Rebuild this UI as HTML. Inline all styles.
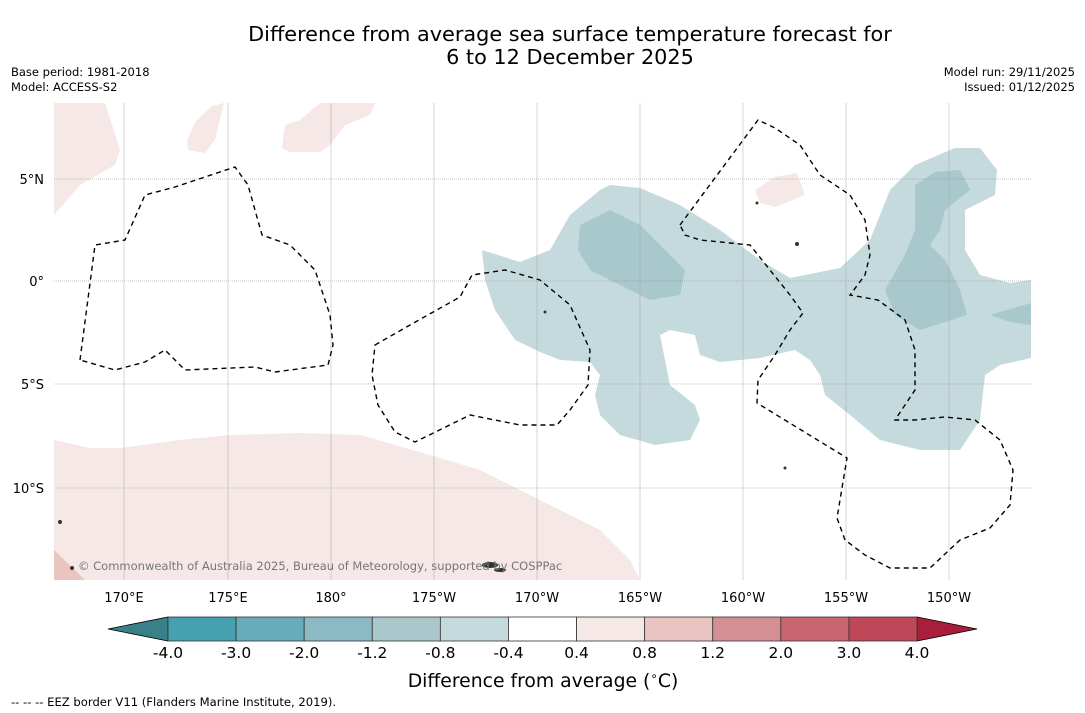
<!DOCTYPE html>
<html><head><meta charset="utf-8">
<style>
body{margin:0;background:#fff;font-family:"DejaVu Sans","Liberation Sans",sans-serif;}
svg{display:block}
</style></head>
<body>
<svg width="1085" height="713" xmlns="http://www.w3.org/2000/svg">
<text x="570" y="41" text-anchor="middle" font-size="20.8">Difference from average sea surface temperature forecast for</text>
<text x="570" y="64" text-anchor="middle" font-size="20.8">6 to 12 December 2025</text>
<text x="11" y="76" font-size="11.5">Base period: 1981-2018</text>
<text x="11" y="91" font-size="11.5">Model: ACCESS-S2</text>
<text x="1075" y="76" font-size="11.5" text-anchor="end">Model run: 29/11/2025</text>
<text x="1075" y="91" font-size="11.5" text-anchor="end">Issued: 01/12/2025</text>

<defs><clipPath id="mc"><rect x="54" y="103" width="977" height="477"/></clipPath></defs>
<g clip-path="url(#mc)">
<rect x="54" y="103" width="977" height="477" fill="#fff"/>
<g fill="#f5e8e6">
<path d="M54,440 L90,448 L120,448 L180,440 L230,435 L300,433 L360,435 L430,455 L480,470 L520,490 L560,510 L600,530 L630,560 L640,580 L54,580Z"/>
<path d="M54,103 L105,103 L120,150 L115,165 L80,185 L54,215Z"/>
<path d="M188,150 L205,153 L215,140 L224,103 L212,106 L195,122 L187,140Z"/>
<path d="M285,125 L300,120 L320,103 L375,103 L370,115 L345,125 L330,145 L320,152 L290,152 L282,148Z"/>
<path d="M755,190 L775,177 L797,173 L805,195 L775,207 L760,203Z"/>
<path d="M54,550 L85,580 L54,580Z" fill="#e8c5c0"/>
</g>
<g>
<path fill="#c5dadd" d="M482,250 L520,262 L550,250 L570,215 L600,190 L610,185 L640,188 L680,205 L720,230 L760,260 L790,278 L840,268 L870,240 L890,190 L915,165 L955,148 L980,148 L997,170 L995,195 L965,210 L965,250 L980,275 L1010,283 L1031,280 L1031,358 L1000,365 L985,375 L980,420 L960,450 L920,450 L880,440 L850,415 L825,395 L820,375 L810,360 L795,350 L760,358 L720,362 L700,355 L695,335 L670,330 L660,335 L665,360 L670,385 L695,405 L700,420 L690,440 L655,445 L620,435 L600,415 L595,395 L600,375 L590,362 L560,360 L540,352 L515,340 L495,310 L485,280Z"/>
<path fill="#a8c8cc" d="M580,225 L610,210 L640,225 L685,270 L680,295 L650,300 L590,270 L578,250Z"/>
<path fill="#a8c8cc" d="M915,185 L935,172 L960,170 L970,190 L945,210 L940,230 L930,245 L945,260 L960,290 L967,315 L920,330 L895,315 L885,290 L905,255 L915,230Z"/>
<path fill="#a8c8cc" d="M990,315 L1031,303 L1031,325 L1010,322Z"/>
</g>
<g stroke="#888" stroke-width="0.6" stroke-dasharray="1,1">
<line x1="54" y1="179" x2="1031" y2="179"/><line x1="54" y1="281" x2="1031" y2="281"/>
<line x1="54" y1="384" x2="1031" y2="384"/><line x1="54" y1="488" x2="1031" y2="488"/>
</g>
<g stroke="#aaa" stroke-width="0.5">
<line x1="124" y1="103" x2="124" y2="580"/><line x1="228" y1="103" x2="228" y2="580"/>
<line x1="331" y1="103" x2="331" y2="580"/><line x1="434" y1="103" x2="434" y2="580"/>
<line x1="537" y1="103" x2="537" y2="580"/><line x1="640" y1="103" x2="640" y2="580"/>
<line x1="743" y1="103" x2="743" y2="580"/><line x1="846" y1="103" x2="846" y2="580"/>
<line x1="949" y1="103" x2="949" y2="580"/>
</g>
<g fill="none" stroke="#000" stroke-width="1.4" stroke-dasharray="5,4">
<path d="M80,360 L95,245 L125,240 L145,195 L175,187 L235,167 L248,185 L262,235 L290,245 L315,270 L330,315 L333,345 L328,365 L275,372 L255,367 L185,370 L165,350 L145,362 L115,370 Z"/>
<path d="M375,345 L410,325 L460,297 L472,275 L505,270 L540,280 L570,305 L590,350 L588,385 L570,410 L557,425 L520,425 L470,415 L415,442 L395,432 L378,405 L372,375 Z"/>
<path d="M680,225 L758,120 L775,128 L800,145 L820,175 L850,195 L865,220 L870,255 L865,275 L850,295 L878,300 L905,320 L915,350 L915,390 L895,420 L915,420 L945,417 L975,420 L1000,440 L1013,470 L1010,505 L990,528 L960,540 L930,568 L890,568 L865,555 L845,540 L837,518 L847,458 L757,403 L758,380 L775,355 L790,330 L803,313 L790,295 L770,270 L750,245 L700,240 L685,235Z"/>
</g>
<g fill="#333">
<ellipse cx="490" cy="565" rx="8" ry="3"/><ellipse cx="500" cy="570" rx="6" ry="2"/>
<circle cx="72" cy="568" r="2"/><circle cx="60" cy="522" r="2"/><circle cx="545" cy="312" r="1.5"/>
<circle cx="797" cy="244" r="2"/><circle cx="757" cy="203" r="1.5"/><circle cx="785" cy="468" r="1.5"/>
</g>
<text x="78" y="570" font-size="11.5" fill="#777">© Commonwealth of Australia 2025, Bureau of Meteorology, supported by COSPPac</text>
</g>

<g font-size="13" text-anchor="middle">
<text x="124" y="602">170°E</text><text x="228" y="602">175°E</text><text x="331" y="602">180°</text>
<text x="434" y="602">175°W</text><text x="537" y="602">170°W</text><text x="640" y="602">165°W</text>
<text x="743" y="602">160°W</text><text x="846" y="602">155°W</text><text x="949" y="602">150°W</text>
</g>
<g font-size="13" text-anchor="end">
<text x="44" y="184">5°N</text><text x="44" y="286">0°</text><text x="44" y="389">5°S</text><text x="44" y="493">10°S</text>
</g>

<g id="cbar"></g>
<text x="543" y="687" font-size="18.8" text-anchor="middle">Difference from average (<tspan font-size="12" dy="-7">∘</tspan><tspan dy="7">C)</tspan></text>
<text x="11" y="706" font-size="11.6">--  --  -- EEZ border V11 (Flanders Marine Institute, 2019).</text>
</svg>
<script>
const cbTicks = ["-4.0","-3.0","-2.0","-1.2","-0.8","-0.4","0.4","0.8","1.2","2.0","3.0","4.0"];
const cbColors = ["#47a0b0","#68acb9","#8bb9c4","#aac8cc","#c5dadd","#ffffff","#f5e8e6","#e8c5c0","#d48f95","#c9656f","#bf4758"];
const cbUnder = "#3a8088";
const cbOver = "#a81e3c";
(function(){
  const g = document.getElementById('cbar');
  const ns = 'http://www.w3.org/2000/svg';
  const x0 = 168, x1 = 917, y = 617, h = 24;
  const w = (x1 - x0) / cbColors.length;
  const mk = (t, a) => { const e = document.createElementNS(ns, t); for (const k in a) e.setAttribute(k, a[k]); g.appendChild(e); return e; };
  let p = mk('polygon', {points: `${x0},${y} ${x0},${y+h} 108,${y+h/2}`, fill: cbUnder, stroke: '#000', 'stroke-width': 0.8});
  
  
  p = mk('polygon', {points: `${x1},${y} ${x1},${y+h} 977,${y+h/2}`, fill: cbOver, stroke: '#000', 'stroke-width': 0.8});
  
  
  cbColors.forEach((c, i) => {
    const r = mk('rect', {x: x0 + i*w, y: y, width: w, height: h, fill: c, stroke: '#333', 'stroke-width': 0.8});
    
    
  });
  cbTicks.forEach((t, i) => {
    const tx = mk('text', {x: x0 + i*w, y: 658, 'font-size': 15.5, 'text-anchor': 'middle'});
    tx.textContent = t;
    
    
  });
})();
</script>
</body></html>
